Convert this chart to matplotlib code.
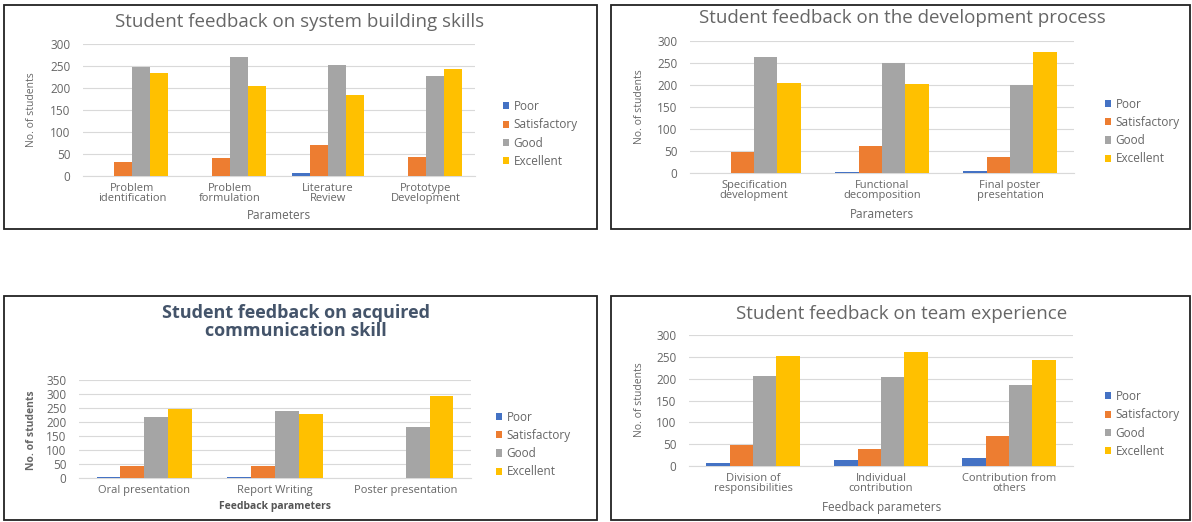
import numpy as np
import matplotlib
matplotlib.use("Agg")
import matplotlib.pyplot as plt
from matplotlib.patches import Rectangle

plt.rcParams['font.family'] = ['Open Sans', 'DejaVu Sans']

W, H = 1192, 522

series = ['Poor', 'Satisfactory', 'Good', 'Excellent']
colors = ['#4472C4', '#ED7D31', '#A5A5A5', '#FFC000']
grey = '#666666'

# panel 1: system building skills
cats1 = ['Problem\nidentification', 'Problem\nformulation', 'Literature\nReview', 'Prototype\nDevelopment']
poor1 = [1, 0, 7, 1]
sat1 = [32, 42, 71, 43]
good1 = [248, 271, 253, 228]
exc1 = [235, 204, 185, 244]

# panel 2: development process
cats2 = ['Specification\ndevelopment', 'Functional\ndecomposition', 'Final poster\npresentation']
poor2 = [1, 2, 4]
sat2 = [47, 61, 37]
good2 = [263, 251, 200]
exc2 = [205, 202, 276]

# panel 3: communication skill
cats3 = ['Oral presentation', 'Report Writing', 'Poster presentation']
poor3 = [3, 5, 0]
sat3 = [42, 43, 0]
good3 = [219, 238, 182]
exc3 = [248, 228, 293]

# panel 4: team experience
cats4 = ['Division of\nresponsibilities', 'Individual\ncontribution', 'Contribution from\nothers']
poor4 = [8, 14, 18]
sat4 = [48, 39, 69]
good4 = [207, 203, 186]
exc4 = [253, 260, 243]

fig = plt.figure(figsize=(W / 100, H / 100), dpi=100)
fig.patch.set_facecolor('white')

def fx(x):
    return x / W

def fy(y):
    return 1 - y / H

def frame(x0, y0, x1, y1):
    fig.patches.append(Rectangle((fx(x0), fy(y1)), (x1 - x0) / W, (y1 - y0) / H,
                                 transform=fig.transFigure, fill=False,
                                 edgecolor='#222222', linewidth=1.3))

def panel(box, cats, data, ymax, ylab_xy, xlab_xy, xlabel, leg_xy, bold=False):
    x0, y0, x1, y1 = box
    ax = fig.add_axes([fx(x0), fy(y1), (x1 - x0) / W, (y1 - y0) / H])
    n = len(cats)
    x = np.arange(n)
    bw = 0.183
    for k, vals in enumerate(data):
        ax.bar(x + (k - 1.5) * bw, vals, bw, color=colors[k], label=series[k], zorder=3)
    ax.set_xlim(-0.5, n - 0.5)
    ax.set_ylim(0, ymax)
    ax.set_yticks(np.arange(0, ymax + 1, 50))
    ax.set_xticks(x)
    ax.set_xticklabels(cats, fontsize=8, color=grey, linespacing=0.9)
    ax.tick_params(axis='y', labelsize=8.5, labelcolor=grey, length=0, pad=9)
    ax.tick_params(axis='x', length=0, pad=5)
    ax.grid(axis='y', color='#D9D9D9', linewidth=0.8, zorder=0)
    for s in ['top', 'right', 'left']:
        ax.spines[s].set_visible(False)
    ax.spines['bottom'].set_color('#D9D9D9')
    wt = 'bold' if bold else 'normal'
    fig.text(fx(ylab_xy[0]), fy(ylab_xy[1]), 'No. of students', rotation=90, ha='center', va='center',
             fontsize=7.5, color=grey, fontweight=wt)
    fig.text(fx(xlab_xy[0]), fy(xlab_xy[1]), xlabel, ha='center', va='center',
             fontsize=8.5 if not bold else 7.5, color=grey if not bold else '#555555', fontweight=wt)
    ax.legend(loc='center left', bbox_to_anchor=(fx(leg_xy[0]), fy(leg_xy[1])),
              bbox_transform=fig.transFigure, frameon=False, borderpad=0,
              fontsize=8.5, handlelength=0.55, handleheight=0.55, handletextpad=0.35,
              labelspacing=0.45, labelcolor=grey)
    return ax

# panel frames
frame(4, 5, 597, 229)
frame(611, 5, 1190, 229)
frame(4, 296, 597, 520)
frame(611, 296, 1190, 520)

panel((83, 44, 475, 176), cats1, [poor1, sat1, good1, exc1], 300,
      (32, 110), (279, 216), 'Parameters', (497, 134))
fig.text(fx(300), fy(22), 'Student feedback on system building skills', ha='center', va='center',
         fontsize=13.5, color=grey)

panel((690, 41, 1074, 173), cats2, [poor2, sat2, good2, exc2], 300,
      (639, 107), (882, 214), 'Parameters', (1099, 131.5))
fig.text(fx(902), fy(18), 'Student feedback on the development process', ha='center', va='center',
         fontsize=13.5, color=grey)

panel((79, 380, 471, 478), cats3, [poor3, sat3, good3, exc3], 350,
      (32, 430), (275, 506), 'Feedback parameters', (490, 444.5), bold=True)
fig.text(fx(296), fy(322), 'Student feedback on acquired\ncommunication skill', ha='center', va='center',
         fontsize=13, color='#44546A', fontweight='bold', linespacing=0.95)

panel((689, 335, 1073, 466), cats4, [poor4, sat4, good4, exc4], 300,
      (639, 400), (882, 507), 'Feedback parameters', (1099, 424))
fig.text(fx(902), fy(314), 'Student feedback on team experience', ha='center', va='center',
         fontsize=13.5, color=grey)

fig.savefig('out.png', dpi=100, facecolor='white')
